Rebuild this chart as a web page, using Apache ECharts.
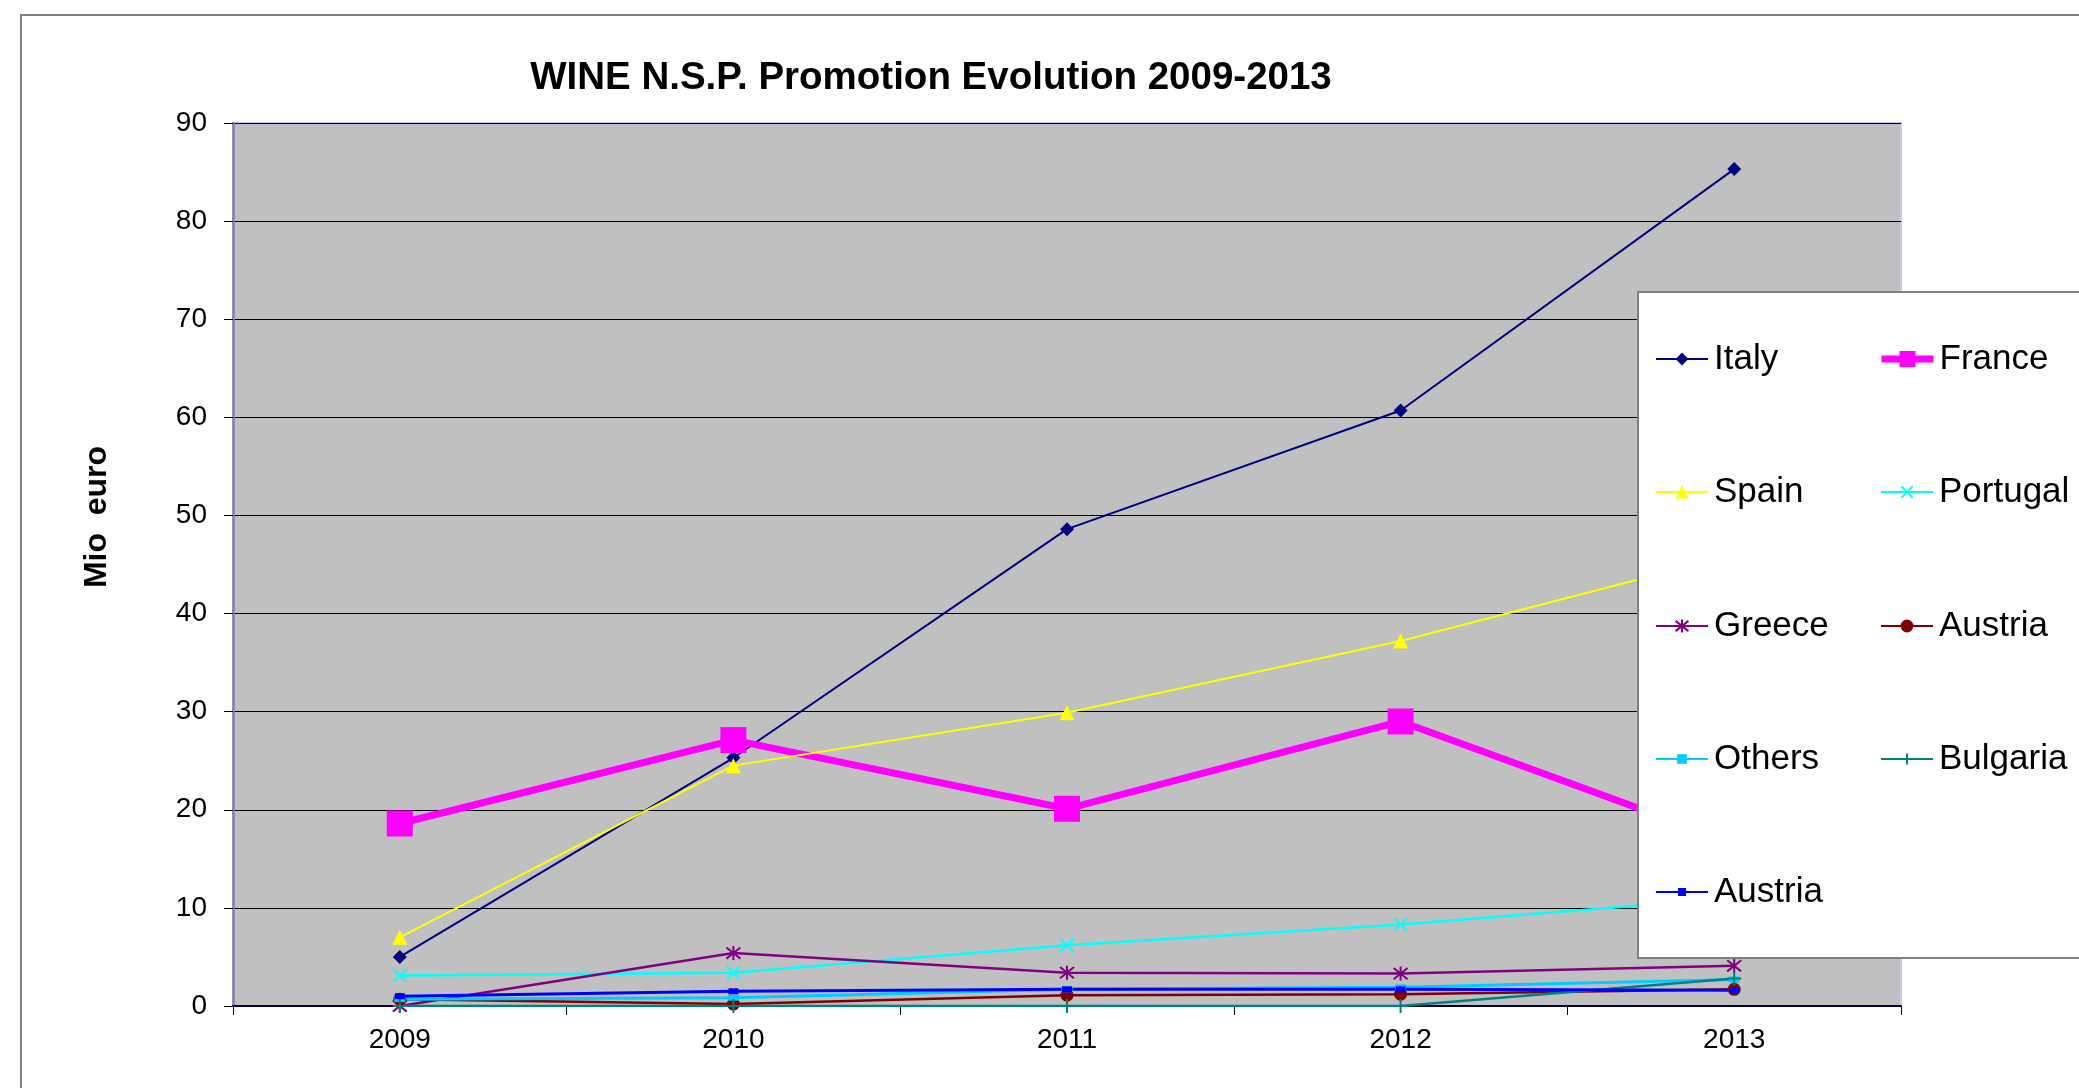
<!DOCTYPE html>
<html>
<head>
<meta charset="utf-8">
<script src="https://cdn.jsdelivr.net/npm/echarts@6/dist/echarts.min.js"></script>
<style>
html,body{margin:0;padding:0;background:#fff;}
#chart{width:2079px;height:1088px;}
</style>
</head>
<body>
<div id="chart"></div>
<script>
const years = ['2009', '2010', '2011', '2012', '2013'];
const italy = [5.0, 25.3, 48.6, 60.7, 85.3];
const france = [18.6, 27.1, 20.1, 29.0, 16.6];
const spain = [7.0, 24.5, 29.9, 37.2, 46.0];
const portugal = [3.1, 3.4, 6.2, 8.3, 11.0];
const greece = [0.0, 5.4, 3.4, 3.3, 4.1];
const austria = [0.7, 0.2, 1.1, 1.2, 1.7];
const others = [0.7, 0.85, 1.7, 1.9, 2.7];
const bulgaria = [0.0, 0.0, 0.0, 0.0, 2.8];
const austria2 = [1.0, 1.5, 1.7, 1.7, 1.6];

const FONT = '"Liberation Sans", Arial, sans-serif';
const X_PATH = 'path://M0,0L10,10M10,0L0,10';
const STAR_PATH = 'path://M5,0L5,10M1,1L9,9M9,1L1,9';
const PLUS_PATH = 'path://M5,0L5,10M0,5L10,5';

function mk(name, data, color, width, symbol, size, extra) {
  const s = {
    name: name, type: 'line', data: data,
    symbol: symbol, symbolSize: size, showSymbol: true,
    lineStyle: {color: color, width: width},
    itemStyle: {color: color},
    emphasis: {disabled: true},
    animation: false
  };
  if (extra) s.itemStyle = Object.assign(s.itemStyle, extra);
  return s;
}

const series = [
  mk('Italy', italy, '#000080', 2, 'diamond', 14),
  mk('France', france, '#FF00FF', 7, 'rect', 26),
  mk('Spain', spain, '#FFFF00', 2, 'triangle', 15),
  mk('Portugal', portugal, '#00FFFF', 2.5, X_PATH, 13, {borderColor: '#00FFFF', borderWidth: 2}),
  mk('Greece', greece, '#800080', 2.5, STAR_PATH, 14, {borderColor: '#800080', borderWidth: 2}),
  mk('Austria', austria, '#800000', 2.5, 'circle', 13),
  mk('Others', others, '#00CCFF', 3, 'rect', [11, 6]),
  mk('Bulgaria', bulgaria, '#008080', 2.5, PLUS_PATH, 14, {borderColor: '#008080', borderWidth: 2}),
  mk('Austria ', austria2, '#0000FF', 3, 'rect', [10, 6])
];

// legend placement: [name, left, centerY, lineWidth, iconHeight]
const legendPos = [
  ['Italy', 1655, 359, 2, 16], ['France', 1878, 359, 7, 20],
  ['Spain', 1655, 492, 2, 16], ['Portugal', 1880, 492, 2, 14],
  ['Greece', 1655, 626, 2, 16], ['Austria', 1880, 626, 2, 16],
  ['Others', 1655, 759, 2, 12], ['Bulgaria', 1880, 759, 2, 14],
  ['Austria ', 1655, 892, 2, 10]
];
const legends = legendPos.map(function (p) {
  return {
    data: [p[0]], left: p[1], top: p[2] - 20, padding: 0,
    itemWidth: 52, itemHeight: p[4], itemGap: 0,
    selectedMode: false,
    lineStyle: {width: p[3]},
    textStyle: {fontFamily: FONT, fontSize: 35, color: '#000', lineHeight: 40, padding: [0, 0, 0, 1]},
    z: 10
  };
});

const chart = echarts.init(document.getElementById('chart'), null, {renderer: 'canvas'});
chart.setOption({
  animation: false,
  backgroundColor: '#fff',
  graphic: [
    {type: 'rect', z: -10, shape: {x: 21, y: 15, width: 2200, height: 2200},
     style: {fill: 'none', stroke: '#808080', lineWidth: 2}},
    {type: 'rect', z: 5, zlevel: 0, shape: {x: 1638, y: 292, width: 600, height: 666},
     style: {fill: '#FFFFFF', stroke: '#808080', lineWidth: 2}},
    {type: 'text', z: 5, x: 931, y: 78,
     style: {text: 'WINE N.S.P. Promotion Evolution 2009-2013', fontFamily: FONT, fontWeight: 'bold',
             fontSize: 38.5, fill: '#000', textAlign: 'center', textVerticalAlign: 'middle'}},
    {type: 'text', z: 5, x: 97, y: 517, rotation: Math.PI / 2,
     style: {text: 'Mio  euro', fontFamily: FONT, fontWeight: 'bold',
             fontSize: 32, fill: '#000', textAlign: 'center', textVerticalAlign: 'middle'}}
  ],
  legend: legends,
  grid: {left: 233, right: 178, top: 123, bottom: 82, show: true,
         backgroundColor: '#C0C0C0', borderColor: '#C8C8FF', borderWidth: 2},
  xAxis: {
    type: 'category', data: years, boundaryGap: true,
    axisLine: {lineStyle: {color: '#000040', width: 2}},
    axisTick: {show: true, length: 9, lineStyle: {color: '#000', width: 1}},
    axisLabel: {fontFamily: FONT, fontSize: 28, color: '#000', margin: 20},
    splitLine: {show: false}
  },
  yAxis: {
    type: 'value', min: 0, max: 90, interval: 10,
    axisLine: {show: true, lineStyle: {color: '#8080A0', width: 2.5}},
    axisTick: {show: true, length: 9, lineStyle: {color: '#000', width: 1}},
    axisLabel: {fontFamily: FONT, fontSize: 28, color: '#000', margin: 26},
    splitLine: {show: true, lineStyle: {color: '#000', width: 1}}
  },
  series: series
});
</script>
</body>
</html>
